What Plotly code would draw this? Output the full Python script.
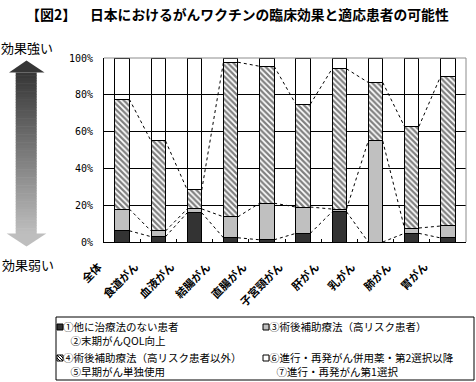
import numpy as np
import plotly.graph_objects as go

# ---------------- data ----------------
categories = ["全体", "食道がん", "血液がん", "結腸がん", "直腸がん",
              "子宮頸がん", "肝がん", "乳がん", "肺がん", "胃がん"]
s_no_other = [6.1, 2.9, 15.9, 2.3, 1.2, 4.7, 16.4, 0.0, 4.7, 2.2]        # ①②
s_adj_high = [11.8, 3.1, 2.1, 11.4, 19.9, 14.3, 1.5, 54.9, 2.9, 6.5]     # ③
s_adj_other = [59.7, 48.9, 10.3, 84.0, 74.4, 55.9, 76.2, 31.8, 55.2, 81.4]  # ④⑤
s_advanced = [22.4, 45.1, 71.7, 2.3, 4.5, 25.1, 5.9, 13.3, 37.2, 9.9]   # ⑥⑦
y_tick_vals = [0, 20, 40, 60, 80, 100]
y_tick_text = ["0%", "20%", "40%", "60%", "80%", "100%"]
legend_names = [
    ["①他に治療法のない患者", "②末期がんQOL向上"],
    ["③術後補助療法（高リスク患者）"],
    ["④術後補助療法（高リスク患者以外）", "⑤早期がん単独使用"],
    ["⑥進行・再発がん併用薬・第2選択以降", "⑦進行・再発がん第1選択"],
]
title_tag = "【図2】"
title_text = "日本におけるがんワクチンの臨床効果と適応患者の可能性"
strong_label = "効果強い"
weak_label = "効果弱い"

# ---------------- geometry helpers ----------------
W, H = 476, 382
PL, PR, PT, PB = 104, 466, 58, 242


def fx(px):
    return (px - PL) / (PR - PL)


def fy(py):
    return (PB - py) / (PB - PT)


JP = "Noto Sans CJK JP"
DARK = "#333333"
GRAY = "#c0c0c0"
BW = 0.4
xpos = list(range(len(categories)))
cat_px = (PR - PL) / len(categories)

fig = go.Figure()

hatch = dict(shape="\\", fgcolor="black", bgcolor="white", size=4, solidity=0.55)
series = [
    (s_no_other, DARK, None),
    (s_adj_high, GRAY, None),
    (s_adj_other, "white", hatch),
    (s_advanced, "rgba(255,255,255,0)", None),
]
for vals, color, pat in series:
    marker = dict(color=color, line=dict(color="black", width=1))
    if pat is not None:
        marker["pattern"] = pat
    fig.add_bar(x=xpos, y=vals, width=BW, marker=marker,
                showlegend=False, hoverinfo="skip")

# series lines (dashed connectors between segment tops)
cum = np.cumsum([s_no_other, s_adj_high, s_adj_other], axis=0)
for level in cum:
    xs, ys = [], []
    for i in range(len(xpos) - 1):
        xs += [xpos[i] + BW / 2, xpos[i + 1] - BW / 2, None]
        ys += [level[i], level[i + 1], None]
    fig.add_scatter(x=xs, y=ys, mode="lines",
                    line=dict(color="black", width=1, dash="3px,3px"),
                    showlegend=False, hoverinfo="skip")

shapes = []
# plot border (top / right, gray)
shapes.append(dict(type="line", xref="paper", yref="paper", x0=0, x1=1, y0=1, y1=1,
                   line=dict(color="#8c8c8c", width=1), layer="above"))
shapes.append(dict(type="line", xref="paper", yref="paper", x0=1, x1=1, y0=0, y1=1,
                   line=dict(color="#8c8c8c", width=1), layer="above"))

# gradient double arrow
top_tip, top_base = 60.5, 72.5
bot_base, bot_tip = 233.5, 246.5
cx = 26.5
c_top, c_bot = 0x36, 0xbe


def gcol(t):
    v = int(round(c_top + (c_bot - c_top) * t))
    return f"rgb({v},{v},{v})"


N = 60
for k in range(N):
    y0 = top_base + (bot_base - top_base) * k / N
    y1 = top_base + (bot_base - top_base) * (k + 1) / N + 0.6
    shapes.append(dict(type="rect", xref="paper", yref="paper",
                       x0=fx(15.7), x1=fx(36.7), y0=fy(y1), y1=fy(y0),
                       fillcolor=gcol((k + 0.5) / N), line=dict(width=0)))
shapes.append(dict(type="path", xref="paper", yref="paper",
                   path=f"M {fx(9)},{fy(top_base)} L {fx(cx)},{fy(top_tip)} L {fx(44.5)},{fy(top_base)} Z",
                   fillcolor=gcol(0), line=dict(width=0)))
shapes.append(dict(type="path", xref="paper", yref="paper",
                   path=f"M {fx(6.7)},{fy(bot_base)} L {fx(cx)},{fy(bot_tip)} L {fx(46.3)},{fy(bot_base)} Z",
                   fillcolor=gcol(1), line=dict(width=0)))

# legend box
shapes.append(dict(type="rect", xref="paper", yref="paper",
                   x0=fx(56), x1=fx(474), y0=fy(380), y1=fy(317),
                   fillcolor="white", line=dict(color="black", width=1)))
sym = [(57, 324, DARK), (263, 324, GRAY), (57, 355, "white"), (263, 355, "white")]
for sx, sy, col in sym:
    shapes.append(dict(type="rect", xref="paper", yref="paper",
                       x0=fx(sx), x1=fx(sx + 6), y0=fy(sy + 6), y1=fy(sy),
                       fillcolor=col, line=dict(color="black", width=1)))
# hatch inside the legend symbol
hx, hy = 57, 355
for d in (0, 3):
    shapes.append(dict(type="line", xref="paper", yref="paper",
                       x0=fx(hx + d), y0=fy(hy), x1=fx(hx + 6), y1=fy(hy + 6 - d),
                       line=dict(color="black", width=1)))
shapes.append(dict(type="line", xref="paper", yref="paper",
                   x0=fx(hx), y0=fy(hy + 3), x1=fx(hx + 3), y1=fy(hy + 6),
                   line=dict(color="black", width=1)))

annotations = []


def ann(text, px, py, size, bold=False, family=JP, xanchor="left", yanchor="middle"):
    annotations.append(dict(text=text, x=fx(px), y=fy(py), xref="paper", yref="paper",
                            xanchor=xanchor, yanchor=yanchor, showarrow=False,
                            align="left", borderpad=0,
                            font=dict(family=family, size=size, color="black",
                                      weight="bold" if bold else "normal")))


ann(title_tag, 25, 14, 14, bold=True)
ann(title_text, 89, 14, 13.8, bold=True)
ann(strong_label, 0, 47, 13)
ann(weak_label, 1, 264, 13)

# legend entries: first line + indented continuation line
INDENT = "\u2002\u00a0"
leg_pos = [(62, 318), (268, 318), (62, 349), (268, 349)]
for names, (lx, ly) in zip(legend_names, leg_pos):
    text = "<br>".join([names[0]] + [INDENT + n for n in names[1:]])
    ann(text, lx, ly, 10.5, yanchor="top")

# rotated category labels (right/top end just left of each bar)
for i, c in enumerate(categories):
    annotations.append(dict(text=c, x=i - 16 / cat_px, y=fy(257), xref="x", yref="paper",
                            xanchor="right", yanchor="top", textangle=-45,
                            showarrow=False, borderpad=0,
                            font=dict(family=JP, size=11, color="black", weight="bold")))

fig.update_layout(
    width=W, height=H,
    margin=dict(l=PL, r=W - PR, t=PT, b=H - PB, pad=0),
    barmode="stack",
    plot_bgcolor="white", paper_bgcolor="white",
    showlegend=False,
    font=dict(family=JP, color="black"),
    shapes=shapes, annotations=annotations,
    xaxis=dict(range=[-0.5, len(categories) - 0.5],
               tickmode="array", tickvals=xpos, ticktext=[""] * len(xpos),
               ticks="", showticklabels=False,
               showline=True, linecolor="black", linewidth=1,
               showgrid=False, zeroline=False,
               minor=dict(tickmode="array", tickvals=[i + 0.5 for i in xpos[:-1]],
                          ticks="inside", ticklen=3, tickwidth=1, tickcolor="black",
                          showgrid=False)),
    yaxis=dict(range=[0, 100], tickmode="array", tickvals=y_tick_vals, ticktext=y_tick_text,
               tickfont=dict(family="DejaVu Sans Mono", size=10),
               ticks="", ticklabelstandoff=8,
               showline=True, linecolor="black", linewidth=1,
               showgrid=True, gridcolor="black", gridwidth=1, zeroline=False),
)

fig.write_html("out.html")
